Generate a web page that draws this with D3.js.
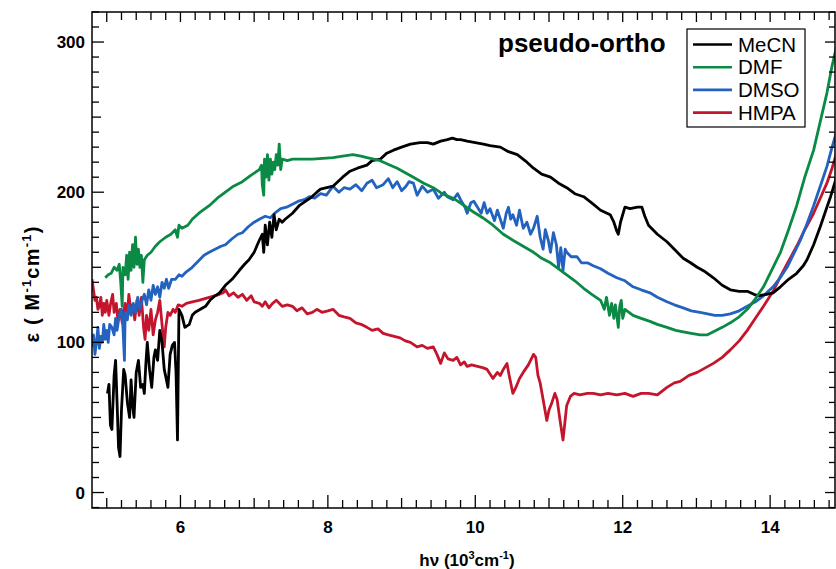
<!DOCTYPE html>
<html>
<head>
<meta charset="utf-8">
<script src="https://cdn.jsdelivr.net/npm/d3@7"></script>
<style>
  body { margin: 0; background: #fff; }
  text { font-family: "Liberation Sans", Arial, sans-serif; }
</style>
</head>
<body>
<div id="chart"></div>
<script>
// series data: [hv (10^3 cm-1), epsilon]
var mecn = [[5.01,66],[5.03,72],[5.05,45],[5.07,42],[5.10,78],[5.12,88],[5.14,60],[5.16,30],[5.18,24],[5.20,55],[5.23,82],[5.25,78],[5.28,60],[5.31,50],[5.33,75],[5.35,58],[5.37,50],[5.40,80],[5.43,88],[5.46,70],[5.49,72],[5.51,66],[5.53,85],[5.55,100],[5.58,82],[5.61,70],[5.64,90],[5.66,95],[5.69,88],[5.72,108],[5.75,100],[5.78,82],[5.81,75],[5.83,70],[5.86,92],[5.89,98],[5.92,100],[5.94,80],[5.96,35],[5.97,80],[5.98,122],[6.02,118],[6.06,110],[6.12,112],[6.16,118],[6.20,120],[6.27,122],[6.34,124],[6.40,128],[6.47,131],[6.53,133],[6.61,138],[6.70,142],[6.80,148],[6.87,152],[6.93,155],[7.00,160],[7.07,168],[7.11,172],[7.13,160],[7.15,178],[7.18,165],[7.21,180],[7.24,170],[7.27,185],[7.30,175],[7.34,182],[7.38,180],[7.42,182],[7.52,186],[7.61,191],[7.70,194],[7.76,196],[7.85,200],[7.90,202],[8.07,204],[8.20,210],[8.30,214],[8.40,216],[8.53,218],[8.60,221],[8.71,222],[8.80,226],[8.89,228],[9.00,230],[9.12,232],[9.25,233],[9.35,233],[9.43,232],[9.53,234],[9.62,235],[9.69,236],[9.75,235],[9.80,235],[9.89,234],[10.00,233],[10.11,232],[10.20,231],[10.34,230],[10.45,227],[10.57,225],[10.70,220],[10.79,216],[10.90,212],[11.02,210],[11.13,206],[11.24,203],[11.35,199],[11.47,197],[11.60,192],[11.70,188],[11.83,185],[11.88,180],[11.92,174],[11.94,172],[11.97,180],[12.03,190],[12.10,189],[12.20,190],[12.26,190],[12.30,184],[12.35,178],[12.47,172],[12.60,167],[12.70,162],[12.82,156],[12.92,153],[13.01,150],[13.12,147],[13.23,143],[13.35,138],[13.46,135],[13.58,134],[13.69,134],[13.78,132],[13.84,131],[13.95,132],[14.04,133],[14.14,137],[14.25,142],[14.36,146],[14.45,151],[14.50,155],[14.59,165],[14.68,177],[14.77,190],[14.82,197],[14.90,210]];

var dmf = [[4.98,143],[5.02,145],[5.06,146],[5.10,150],[5.14,148],[5.17,152],[5.19,140],[5.21,124],[5.22,150],[5.25,145],[5.27,158],[5.29,142],[5.31,160],[5.33,148],[5.35,165],[5.37,150],[5.39,170],[5.41,152],[5.43,162],[5.45,150],[5.47,158],[5.49,140],[5.51,155],[5.55,158],[5.60,160],[5.66,164],[5.72,167],[5.80,170],[5.87,172],[5.93,175],[5.96,170],[5.98,178],[6.02,176],[6.10,178],[6.16,182],[6.25,186],[6.39,191],[6.50,196],[6.61,200],[6.72,204],[6.84,207],[6.95,211],[7.07,215],[7.10,218],[7.11,205],[7.13,198],[7.14,222],[7.16,210],[7.18,225],[7.20,208],[7.22,222],[7.24,212],[7.26,220],[7.28,215],[7.30,225],[7.32,218],[7.34,232],[7.36,215],[7.38,222],[7.45,221],[7.52,222],[7.62,222],[7.79,222],[8.07,223],[8.20,224],[8.34,225],[8.45,224],[8.53,223],[8.71,221],[8.80,219],[8.94,216],[9.05,213],[9.16,210],[9.30,206],[9.43,203],[9.55,199],[9.70,196],[9.85,191],[9.97,187],[10.10,183],[10.24,178],[10.38,172],[10.51,168],[10.65,164],[10.79,160],[10.90,156],[11.02,153],[11.13,149],[11.24,145],[11.35,141],[11.47,136],[11.58,132],[11.70,128],[11.75,122],[11.78,130],[11.82,118],[11.85,126],[11.88,116],[11.90,125],[11.92,118],[11.94,110],[11.96,124],[11.98,128],[12.00,116],[12.03,122],[12.14,118],[12.25,116],[12.37,114],[12.47,112],[12.60,110],[12.72,108],[12.82,107],[12.93,106],[13.05,105],[13.15,105],[13.23,107],[13.35,110],[13.46,113],[13.58,117],[13.69,122],[13.80,129],[13.91,137],[14.02,148],[14.14,160],[14.25,175],[14.36,191],[14.47,210],[14.59,228],[14.68,247],[14.77,266],[14.84,284],[14.90,297]];

var dmso = [[4.80,97],[4.82,105],[4.84,92],[4.86,100],[4.88,110],[4.90,96],[4.92,104],[4.94,100],[4.96,112],[4.98,102],[5.00,108],[5.02,100],[5.04,112],[5.07,110],[5.10,105],[5.12,116],[5.14,108],[5.17,118],[5.20,122],[5.22,110],[5.24,88],[5.25,120],[5.28,115],[5.30,125],[5.33,118],[5.36,126],[5.39,120],[5.42,130],[5.45,122],[5.48,128],[5.51,132],[5.54,125],[5.57,135],[5.60,128],[5.63,138],[5.66,132],[5.69,137],[5.72,130],[5.75,140],[5.78,136],[5.81,142],[5.84,136],[5.88,142],[5.93,142],[5.98,145],[6.02,144],[6.08,147],[6.16,150],[6.24,154],[6.32,158],[6.39,160],[6.47,162],[6.55,164],[6.61,165],[6.70,169],[6.78,172],[6.84,173],[6.92,177],[7.00,180],[7.07,182],[7.15,184],[7.22,183],[7.28,186],[7.36,189],[7.44,190],[7.52,192],[7.60,194],[7.68,195],[7.75,197],[7.82,196],[7.90,199],[7.98,198],[8.07,204],[8.15,200],[8.22,203],[8.30,202],[8.38,205],[8.46,201],[8.53,206],[8.60,208],[8.66,203],[8.75,205],[8.82,209],[8.88,203],[8.94,207],[9.00,201],[9.06,204],[9.10,207],[9.16,206],[9.21,198],[9.28,204],[9.35,200],[9.43,202],[9.50,196],[9.58,200],[9.62,197],[9.70,195],[9.76,199],[9.80,195],[9.86,190],[9.89,186],[9.94,193],[9.98,194],[10.03,190],[10.08,186],[10.12,193],[10.16,186],[10.20,189],[10.26,181],[10.30,188],[10.38,176],[10.42,186],[10.45,190],[10.48,182],[10.51,185],[10.56,178],[10.60,188],[10.65,176],[10.70,180],[10.75,172],[10.79,176],[10.84,184],[10.88,170],[10.92,162],[10.95,175],[10.99,168],[11.02,160],[11.06,173],[11.10,165],[11.13,150],[11.16,163],[11.19,148],[11.22,162],[11.24,160],[11.30,157],[11.38,157],[11.44,153],[11.52,153],[11.60,151],[11.70,149],[11.80,146],[11.92,143],[12.03,141],[12.14,137],[12.25,135],[12.37,133],[12.47,130],[12.60,127],[12.70,125],[12.82,123],[12.93,121],[13.05,120],[13.15,119],[13.25,118],[13.35,118],[13.46,119],[13.58,121],[13.69,124],[13.80,127],[13.91,131],[14.04,137],[14.15,144],[14.23,150],[14.32,159],[14.41,168],[14.50,179],[14.59,191],[14.68,204],[14.77,217],[14.84,230],[14.90,240]];

var hmpa = [[4.80,142],[4.82,135],[4.84,128],[4.86,130],[4.88,122],[4.90,124],[4.92,130],[4.94,118],[4.96,126],[4.98,120],[5.00,128],[5.03,118],[5.05,125],[5.08,132],[5.10,120],[5.13,126],[5.15,115],[5.18,122],[5.21,113],[5.23,120],[5.25,126],[5.28,118],[5.30,132],[5.33,120],[5.35,125],[5.38,115],[5.41,128],[5.44,118],[5.47,130],[5.50,110],[5.52,102],[5.54,118],[5.57,108],[5.60,122],[5.63,105],[5.66,115],[5.69,120],[5.72,128],[5.75,112],[5.78,97],[5.80,110],[5.83,120],[5.86,118],[5.90,122],[5.93,120],[5.97,125],[6.02,124],[6.08,126],[6.16,127],[6.25,128],[6.32,129],[6.39,130],[6.46,131],[6.53,132],[6.58,133],[6.61,135],[6.66,131],[6.72,133],[6.78,130],[6.84,132],[6.90,128],[6.96,131],[7.00,127],[7.07,126],[7.11,124],[7.15,127],[7.20,123],[7.25,126],[7.30,128],[7.38,124],[7.45,125],[7.52,124],[7.58,121],[7.65,123],[7.72,119],[7.79,120],[7.85,122],[7.92,120],[8.00,121],[8.07,122],[8.15,118],[8.22,117],[8.30,116],[8.38,113],[8.45,112],[8.53,110],[8.60,108],[8.68,109],[8.75,106],[8.82,105],[8.90,104],[8.98,103],[9.05,101],[9.12,100],[9.21,97],[9.28,98],[9.35,96],[9.43,97],[9.48,92],[9.53,86],[9.58,93],[9.63,89],[9.70,88],[9.75,90],[9.80,85],[9.85,87],[9.89,84],[9.95,85],[10.03,84],[10.11,83],[10.16,82],[10.24,76],[10.30,80],[10.34,78],[10.38,82],[10.43,86],[10.46,78],[10.51,66],[10.55,70],[10.60,76],[10.65,80],[10.72,85],[10.79,92],[10.82,90],[10.85,78],[10.88,73],[10.92,62],[10.97,48],[11.00,55],[11.04,60],[11.08,66],[11.11,62],[11.15,48],[11.19,35],[11.21,44],[11.24,58],[11.29,64],[11.34,66],[11.42,65],[11.52,66],[11.60,66],[11.70,65],[11.80,66],[11.92,65],[12.03,66],[12.14,64],[12.25,66],[12.35,66],[12.47,65],[12.60,70],[12.70,73],[12.78,74],[12.90,78],[13.01,80],[13.12,83],[13.23,86],[13.35,90],[13.46,95],[13.58,101],[13.69,108],[13.80,116],[13.91,124],[14.04,134],[14.14,144],[14.25,154],[14.36,164],[14.47,175],[14.59,186],[14.68,196],[14.77,206],[14.84,216],[14.90,226]];

var seriesNames = ["MeCN", "DMF", "DMSO", "HMPA"];
var seriesColors = ["#000000", "#0a8a44", "#2462c0", "#c4152c"];
var xTickLabels = [6, 8, 10, 12, 14];
var yTickLabels = [0, 100, 200, 300];

//set the dimensions of the graph
var W = 836, H = 569;
var pLeft = 92, pRight = 835, pTop = 12, pBottom = 508;

var svg = d3.select("#chart").append("svg")
    .attr("width", W)
    .attr("height", H);

var x = d3.scaleLinear().domain([4.8, 14.88]).range([pLeft, pRight]);
var y = d3.scaleLinear().domain([-10.3, 320]).range([pBottom, pTop]);

svg.append("clipPath").attr("id", "clip")
  .append("rect")
    .attr("x", pLeft).attr("y", pTop)
    .attr("width", pRight - pLeft).attr("height", pBottom - pTop);

var line = d3.line()
    .x(function(d) { return x(d[0]); })
    .y(function(d) { return y(d[1]); });

var allSeries = [mecn, dmf, dmso, hmpa];
// drawing order: HMPA, DMSO, MeCN, DMF
[3, 2, 0, 1].forEach(function(i) {
  svg.append("path")
      .datum(allSeries[i])
      .attr("clip-path", "url(#clip)")
      .attr("fill", "none")
      .attr("stroke", seriesColors[i])
      .attr("stroke-width", 2.8)
      .attr("stroke-linejoin", "round")
      .attr("d", line);
});

// tick helpers (ticks point inward)
function range(a, b, s) {
  var out = [];
  for (var v = a; v <= b + 1e-9; v += s) out.push(Math.round(v * 100) / 100);
  return out;
}
var xMinor = range(5, 14.8, 0.2);
var yMinor = range(-10, 320, 10);

var axes = svg.append("g").attr("stroke", "#000").attr("stroke-width", 1.3);

// bottom and top
xMinor.forEach(function(v) {
  var isMajor = Math.abs(v % 2) < 1e-6;
  var isMid = Math.abs(v % 1) < 1e-6;
  var lenB = isMajor ? 13 : (isMid ? 10 : 8);
  var lenT = isMid ? 10 : 8;
  axes.append("line").attr("x1", x(v)).attr("x2", x(v)).attr("y1", pBottom).attr("y2", pBottom - lenB);
  axes.append("line").attr("x1", x(v)).attr("x2", x(v)).attr("y1", pTop).attr("y2", pTop + lenT);
});
// left and right
yMinor.forEach(function(v) {
  var isMajor = Math.abs(v % 100) < 1e-6;
  var isMid = Math.abs(v % 50) < 1e-6;
  var lenL = isMajor ? 12 : (isMid ? 9 : 7);
  var lenR = isMid ? 10 : 6;
  axes.append("line").attr("y1", y(v)).attr("y2", y(v)).attr("x1", pLeft).attr("x2", pLeft + lenL);
  axes.append("line").attr("y1", y(v)).attr("y2", y(v)).attr("x1", pRight).attr("x2", pRight - lenR);
});

// frame
svg.append("rect")
    .attr("x", pLeft).attr("y", pTop)
    .attr("width", pRight - pLeft).attr("height", pBottom - pTop)
    .attr("fill", "none").attr("stroke", "#000").attr("stroke-width", 1.5);

// tick labels
svg.selectAll(".xl").data(xTickLabels).enter().append("text")
    .attr("x", function(d) { return x(d); })
    .attr("y", 533)
    .attr("text-anchor", "middle")
    .attr("font-size", 17).attr("font-weight", "bold")
    .text(function(d) { return d; });

svg.selectAll(".yl").data(yTickLabels).enter().append("text")
    .attr("x", 85)
    .attr("y", function(d) { return y(d) + 6; })
    .attr("text-anchor", "end")
    .attr("font-size", 17).attr("font-weight", "bold")
    .text(function(d) { return d; });

// axis titles
var xt = svg.append("text")
    .attr("x", 467).attr("y", 566)
    .attr("text-anchor", "middle")
    .attr("font-size", 17).attr("font-weight", "bold");
xt.append("tspan").text("hν  (10");
xt.append("tspan").attr("font-size", 11).attr("dy", -7).text("3");
xt.append("tspan").attr("dy", 7).text("cm");
xt.append("tspan").attr("font-size", 11).attr("dy", -7).text("-1");
xt.append("tspan").attr("dy", 7).text(")");

var yt = svg.append("text")
    .attr("transform", "translate(39,284) rotate(-90)")
    .attr("text-anchor", "middle")
    .attr("font-size", 20).attr("font-weight", "bold")
    .attr("letter-spacing", 1.2);
yt.append("tspan").text("ε ( M");
yt.append("tspan").attr("font-size", 13).attr("dy", -8).text("-1");
yt.append("tspan").attr("dy", 8).text("cm");
yt.append("tspan").attr("font-size", 13).attr("dy", -8).text("-1");
yt.append("tspan").attr("dy", 8).text(")");

// title
svg.append("text")
    .attr("x", 498).attr("y", 52)
    .attr("font-size", 26).attr("font-weight", "bold")
    .text("pseudo-ortho");

// legend
var lg = svg.append("g");
lg.append("rect")
    .attr("x", 687).attr("y", 29).attr("width", 118).attr("height", 98)
    .attr("fill", "#fff").attr("stroke", "#000").attr("stroke-width", 1.2);
seriesNames.forEach(function(name, i) {
  var ly = 44.5 + i * 22.7;
  lg.append("line")
      .attr("x1", 693).attr("x2", 732).attr("y1", ly).attr("y2", ly)
      .attr("stroke", seriesColors[i]).attr("stroke-width", 2.6);
  lg.append("text")
      .attr("x", 738).attr("y", ly + 7)
      .attr("font-size", 20.5)
      .text(name);
});
</script>
</body>
</html>
